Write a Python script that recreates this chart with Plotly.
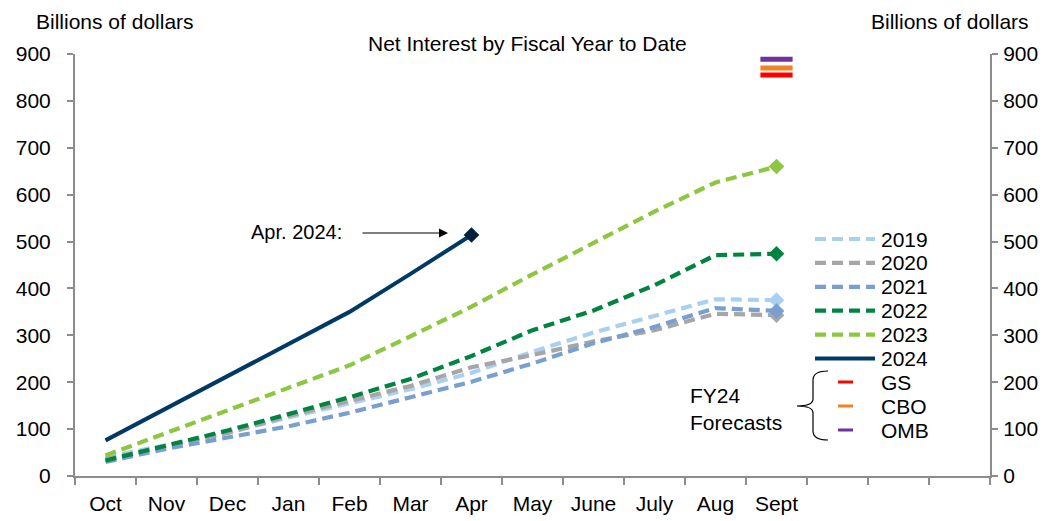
import plotly.graph_objects as go

# ---------------- data ----------------
months = ["Oct", "Nov", "Dec", "Jan", "Feb", "Mar", "Apr", "May", "June", "July", "Aug", "Sept"]
extra_slots = [" ", "  ", "   "]  # empty category slots to the right (legend area)

fy2019 = [40, 66, 92, 125, 155, 185, 220, 265, 306, 342, 377, 375]
fy2020 = [36, 63, 92, 128, 160, 192, 232, 258, 287, 311, 346, 343]
fy2021 = [30, 58, 82, 106, 135, 167, 201, 240, 283, 318, 358, 352]
fy2022 = [33, 64, 97, 132, 168, 207, 256, 311, 353, 407, 471, 474]
fy2023 = [44, 92, 141, 189, 236, 298, 361, 430, 496, 564, 626, 660]
fy2024 = [76, 144, 212, 280, 350, 431, 514]

series_names = ["2019", "2020", "2021", "2022", "2023", "2024"]
series_values = [fy2019, fy2020, fy2021, fy2022, fy2023, fy2024]
series_colors = ["#A9D0F0", "#A6A6A6", "#789FCF", "#00843F", "#8DC63F", "#003A64"]
series_dash = ["dash", "dash", "dash", "dash", "dash", "solid"]
marker_colors = ["#A9D0F0", "#A6A6A6", "#789FCF", "#00843F", "#8DC63F", "#04203F"]

forecast_names = ["GS", "CBO", "OMB"]
forecast_values = [855, 870, 889]
forecast_colors = ["#FF0000", "#F58220", "#7030A0"]
forecast_month = "Sept"

# ---------------- layout geometry ----------------
W, H = 1063, 521
PL, PR, PT, PB = 75, 990, 54, 476
FONT = "Arial, 'Liberation Sans', sans-serif"
AXC = "#8C8C8C"
DASH = "11px,6px"
FS = 21


def px2x(p):
    return (p - PL) / (PR - PL)


def py2y(p):
    return (PB - p) / (PB - PT)


fig = go.Figure()

for name, vals, col, dsh, mcol in zip(series_names, series_values, series_colors, series_dash, marker_colors):
    fig.add_trace(go.Scatter(
        x=months[:len(vals)], y=vals, mode="lines", name=name,
        line=dict(color=col, width=4.2 if dsh == "dash" else 4, dash=DASH if dsh == "dash" else "solid"),
        showlegend=False, hoverinfo="x+y+name"))
    fig.add_trace(go.Scatter(
        x=[months[len(vals) - 1]], y=[vals[-1]], mode="markers", name=name,
        marker=dict(symbol="diamond", size=12, color=mcol),
        showlegend=False, hoverinfo="x+y+name"))

for name, val, col in zip(forecast_names, forecast_values, forecast_colors):
    fig.add_trace(go.Scatter(
        x=[forecast_month], y=[val], mode="markers", name=name,
        marker=dict(symbol="line-ew", size=23, line=dict(width=5, color=col), color=col),
        showlegend=False, hoverinfo="y+name"))

# dummy reference for right axis
fig.add_trace(go.Scatter(x=[], y=[], yaxis="y2", showlegend=False, hoverinfo="skip"))

shapes = []
annotations = []

# manual legend
for i, (name, col, dsh) in enumerate(zip(series_names, series_colors, series_dash)):
    yy = 239 + 23.9 * i
    shapes.append(dict(type="line", xref="paper", yref="paper",
                       x0=px2x(815), x1=px2x(875), y0=py2y(yy), y1=py2y(yy),
                       line=dict(color=col, width=4.2 if dsh == "dash" else 4,
                                 dash=DASH if dsh == "dash" else "solid")))
    annotations.append(dict(xref="paper", yref="paper", x=px2x(879), y=py2y(yy),
                            text=name, showarrow=False, xanchor="left", yanchor="middle",
                            font=dict(size=FS, color="black", family=FONT)))
for j, (name, col) in enumerate(zip(forecast_names, forecast_colors)):
    yy = 382 + 24 * j
    shapes.append(dict(type="line", xref="paper", yref="paper",
                       x0=px2x(838), x1=px2x(853), y0=py2y(yy), y1=py2y(yy),
                       line=dict(color=col, width=3)))
    annotations.append(dict(xref="paper", yref="paper", x=px2x(879), y=py2y(yy),
                            text=name, showarrow=False, xanchor="left", yanchor="middle",
                            font=dict(size=FS, color="black", family=FONT)))

# brace
pts = [(828, 371), (813, 371), (813, 380), (813, 399), (813, 406), (797, 406),
       (813, 406), (813, 413), (813, 431), (813, 440), (828, 440)]
def P(p):
    return f"{px2x(p[0]):.5f},{py2y(p[1]):.5f}"
path = (f"M {P(pts[0])} Q {P(pts[1])} {P(pts[2])} L {P(pts[3])} Q {P(pts[4])} {P(pts[5])} "
        f"Q {P(pts[6])} {P(pts[7])} L {P(pts[8])} Q {P(pts[9])} {P(pts[10])}")
shapes.append(dict(type="path", xref="paper", yref="paper", path=path,
                   line=dict(color="black", width=1.2)))

annotations.append(dict(xref="paper", yref="paper", x=px2x(688), y=py2y(409),
                        text="FY24<br>Forecasts", showarrow=False, xanchor="left", yanchor="middle",
                        align="left", font=dict(size=FS, color="black", family=FONT)))

# Apr. 2024 annotation
annotations.append(dict(xref="paper", yref="paper", x=px2x(296), y=py2y(232),
                        text="Apr. 2024:", showarrow=False, xanchor="center", yanchor="middle",
                        font=dict(size=20, color="black", family=FONT)))
annotations.append(dict(xref="paper", yref="paper", x=px2x(448), y=py2y(233),
                        ax=-87, ay=0, text="", showarrow=True, arrowhead=2, arrowsize=1.5,
                        arrowwidth=1.2, arrowcolor="black"))

# axis titles and chart title
annotations.append(dict(xref="paper", yref="paper", x=px2x(115), y=py2y(21),
                        text="Billions of dollars", showarrow=False, xanchor="center", yanchor="middle",
                        font=dict(size=FS, color="black", family=FONT)))
annotations.append(dict(xref="paper", yref="paper", x=px2x(950), y=py2y(21),
                        text="Billions of dollars", showarrow=False, xanchor="center", yanchor="middle",
                        font=dict(size=FS, color="black", family=FONT)))
annotations.append(dict(xref="paper", yref="paper", x=px2x(527), y=py2y(43),
                        text="Net Interest by Fiscal Year to Date", showarrow=False,
                        xanchor="center", yanchor="middle",
                        font=dict(size=FS, color="black", family=FONT)))

axis_common = dict(range=[0, 900], dtick=100, showgrid=False, zeroline=False,
                   showline=True, linecolor=AXC, linewidth=2,
                   ticks="outside", ticklen=6, tickwidth=1.5, tickcolor=AXC,
                   tickfont=dict(size=FS, color="black", family=FONT), fixedrange=True)

fig.update_layout(
    width=W, height=H,
    margin=dict(l=PL, r=W - PR, t=PT, b=H - PB, autoexpand=False),
    paper_bgcolor="white", plot_bgcolor="white",
    font=dict(family=FONT, color="black", size=FS),
    showlegend=False,
    xaxis=dict(type="category", categoryorder="array", categoryarray=months + extra_slots,
               range=[-0.5, len(months) + len(extra_slots) - 0.5],
               tickson="boundaries", ticks="outside", ticklen=7, tickwidth=1.5, tickcolor=AXC,
               showline=True, linecolor=AXC, linewidth=2, showgrid=False, zeroline=False,
               tickfont=dict(size=FS, color="black", family=FONT), ticklabelstandoff=8,
               fixedrange=True),
    yaxis=dict(side="left", ticklabelstandoff=12, **axis_common),
    yaxis2=dict(side="right", overlaying="y", ticklabelstandoff=1, **axis_common),
    shapes=shapes,
    annotations=annotations,
)

fig.write_html("out.html")
